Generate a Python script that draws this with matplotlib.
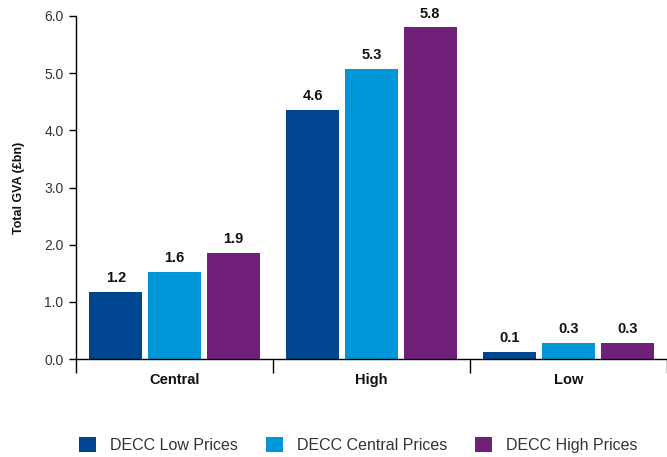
import matplotlib
matplotlib.use("Agg")
import matplotlib.pyplot as plt
import numpy as np

plt.rcParams['font.family'] = ['Liberation Sans', 'DejaVu Sans']

categories = ["Central", "High", "Low"]
series_names = ["DECC Low Prices", "DECC Central Prices", "DECC High Prices"]
colors = ["#004590", "#0096D8", "#702079"]

# bar heights as drawn, and the labels printed above them
low_prices = [1.17, 4.36, 0.13]
central_prices = [1.52, 5.08, 0.28]
high_prices = [1.85, 5.80, 0.28]
low_labels = ["1.2", "4.6", "0.1"]
central_labels = ["1.6", "5.3", "0.3"]
high_labels = ["1.9", "5.8", "0.3"]

series = [low_prices, central_prices, high_prices]
labels = [low_labels, central_labels, high_labels]

fig = plt.figure(figsize=(6.67, 4.57), dpi=100)
ax = fig.add_axes([0.114, 0.2144, 0.886, 0.7506])

x = np.arange(len(categories))
width = 0.27
offsets = [-0.298, 0.0, 0.298]

for vals, labs, off, col, name in zip(series, labels, offsets, colors, series_names):
    bars = ax.bar(x + off, vals, width, color=col, label=name)
    for b, lab in zip(bars, labs):
        ax.text(b.get_x() + b.get_width() / 2, b.get_height() + 0.12, lab,
                ha='center', va='bottom', fontsize=10.5, fontweight='bold', color='#111111')

ax.set_xlim(-0.5, 2.5)
ax.set_ylim(0, 6)
ax.set_yticks(np.arange(0, 6.1, 1.0))
ax.set_yticklabels([f"{v:.1f}" for v in np.arange(0, 6.1, 1.0)], fontsize=10, color='#333333')
ax.tick_params(axis='y', direction='out', length=5, width=1, pad=4)

# separators between groups as x ticks, category names as minor labels
ax.set_xticks([-0.5, 0.5, 1.5, 2.5])
ax.set_xticklabels([])
ax.tick_params(axis='x', which='major', direction='out', length=10, width=1)
ax.set_xticks(x, minor=True)
ax.set_xticklabels(categories, minor=True, fontsize=10.5, fontweight='bold', color='#111111')
ax.tick_params(axis='x', which='minor', length=0, pad=10)

ax.spines['top'].set_visible(False)
ax.spines['right'].set_visible(False)
ax.spines['left'].set_linewidth(1)
ax.spines['bottom'].set_linewidth(1)

ax.set_ylabel("Total GVA (£bn)", fontsize=9, fontweight='bold', labelpad=14, color='#111111')

leg = fig.legend(loc='center', bbox_to_anchor=(0.537, 0.0263), ncol=3, frameon=False,
                 fontsize=11.5, handlelength=1.06, handleheight=1.06, columnspacing=1.75,
                 handletextpad=0.875)
for t in leg.get_texts():
    t.set_color('#333333')

fig.savefig("out.png", dpi=100)
